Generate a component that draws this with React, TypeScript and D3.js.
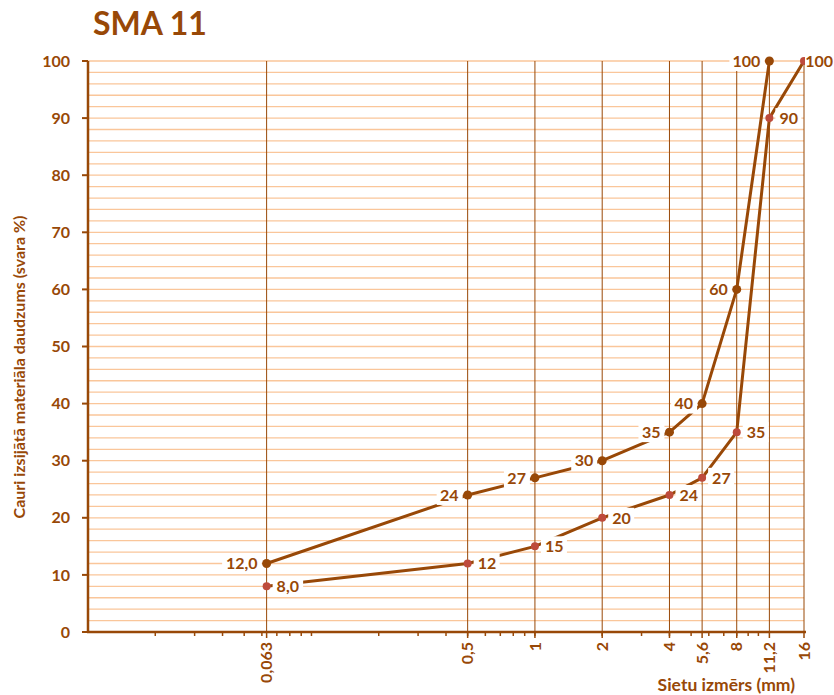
import React from "react";
import * as d3 from "d3";

const sieves = [0.063, 0.5, 1, 2, 4, 5.6, 8, 11.2, 16];
const sieveLabels = ["0,063", "0,5", "1", "2", "4", "5,6", "8", "11,2", "16"];

const upperX = [0.063, 0.5, 1, 2, 4, 5.6, 8, 11.2];
const upperY = [12, 24, 27, 30, 35, 40, 60, 100];
const upperLabels = ["12,0", "24", "27", "30", "35", "40", "60", "100"];

const lowerX = [0.063, 0.5, 1, 2, 4, 5.6, 8, 11.2, 16];
const lowerY = [8, 12, 15, 20, 24, 27, 35, 90, 100];
const lowerLabels = ["8,0", "12", "15", "20", "24", "27", "35", "90", "100"];

const yTicks = [0, 10, 20, 30, 40, 50, 60, 70, 80, 90, 100];
const yGrid = d3.range(0, 101, 2);

const W = 834;
const H = 695;
const BROWN = "#984807";
const GRID = "#FAC69A";
const RED = "#BE4B3C";
const FONT = "Lato, 'Open Sans', sans-serif";

export default function App() {
  const x = d3.scaleLog().domain([0.01, 16]).range([88, 804]);
  const y = d3.scaleLinear().domain([0, 100]).range([632, 61]);
  const minorTicks = x.ticks(20).filter((t) => t > 0.01 && t < 16);
  const line = d3
    .line<[number, number]>()
    .x((d) => x(d[0]))
    .y((d) => y(d[1]));
  const upper: [number, number][] = upperX.map((v, i) => [v, upperY[i]]);
  const lower: [number, number][] = lowerX.map((v, i) => [v, lowerY[i]]);

  const labelW = (s: string) => s.length * 9 - (s.includes(",") ? 4.5 : 0);

  return (
    <svg
      width={W}
      height={H}
      style={{ position: "absolute", left: 0, top: 0, background: "#fff" }}
      fontFamily={FONT}
    >
      <rect x={0} y={0} width={W} height={H} fill="#fff" />
      <text x={93} y={35} fontSize={32} fontWeight={700} fill={BROWN}>
        SMA 11
      </text>

      {/* horizontal grid */}
      {yGrid.map((v) => (
        <line
          key={"g" + v}
          x1={88}
          x2={804}
          y1={y(v)}
          y2={y(v)}
          stroke={GRID}
          strokeWidth={1.3}
        />
      ))}
      {/* vertical sieve lines */}
      {sieves.map((s) => (
        <line
          key={"v" + s}
          x1={x(s)}
          x2={x(s)}
          y1={y(100)}
          y2={y(0)}
          stroke={BROWN}
          strokeWidth={1}
        />
      ))}

      {/* axes */}
      <line x1={88} x2={88} y1={y(100)} y2={y(0) + 1} stroke={BROWN} strokeWidth={2.5} />
      <line x1={87} x2={806} y1={y(0)} y2={y(0)} stroke={BROWN} strokeWidth={2.5} />
      {yTicks.map((v) => (
        <g key={"yt" + v}>
          <line x1={82} x2={88} y1={y(v)} y2={y(v)} stroke={BROWN} strokeWidth={2} />
          <text
            x={70}
            y={y(v)}
            dy="0.35em"
            textAnchor="end"
            fontSize={16}
            fontWeight={700}
            fill={BROWN}
          >
            {v}
          </text>
        </g>
      ))}
      {minorTicks.map((t) => (
        <line
          key={"mt" + t}
          x1={x(t)}
          x2={x(t)}
          y1={y(0)}
          y2={y(0) + 4}
          stroke={BROWN}
          strokeWidth={1.5}
        />
      ))}
      {sieves.map((s, i) => (
        <g key={"xt" + s}>
          <line x1={x(s)} x2={x(s)} y1={y(0)} y2={y(0) + 6} stroke={BROWN} strokeWidth={1.5} />
          <text
            transform={`translate(${x(s)},${y(0) + 10}) rotate(-90)`}
            dy="0.35em"
            textAnchor="end"
            fontSize={16}
            fontWeight={700}
            fill={BROWN}
          >
            {sieveLabels[i]}
          </text>
        </g>
      ))}

      {/* axis titles */}
      <text
        transform={`translate(25,367) rotate(-90)`}
        textAnchor="middle"
        fontSize={16}
        fontWeight={700}
        fill={BROWN}
      >
        Cauri izsijātā materiāla daudzums (svara %)
      </text>
      <text x={795} y={691} textAnchor="end" fontSize={17.5} fontWeight={700} fill={BROWN}>
        Sietu izmērs (mm)
      </text>

      {/* series lines */}
      <path d={line(upper) || ""} fill="none" stroke={BROWN} strokeWidth={3} strokeLinejoin="round" />
      <path d={line(lower) || ""} fill="none" stroke={BROWN} strokeWidth={3} strokeLinejoin="round" />

      {/* markers */}
      {upper.map((d, i) => (
        <circle key={"um" + i} cx={x(d[0])} cy={y(d[1])} r={4.5} fill={BROWN} />
      ))}
      {lower.map((d, i) => (
        <circle key={"lm" + i} cx={x(d[0])} cy={y(d[1])} r={4} fill={RED} />
      ))}

      {/* labels */}
      {upper.map((d, i) => {
        const w = labelW(upperLabels[i]);
        const rx = x(d[0]) - 9;
        return (
          <g key={"ul" + i}>
            <rect x={rx - w - 4} y={y(d[1]) - 10} width={w + 8} height={20} fill="#fff" />
            <text
              x={rx}
              y={y(d[1])}
              dy="0.36em"
              textAnchor="end"
              fontSize={16}
              fontWeight={700}
              fill={BROWN}
            >
              {upperLabels[i]}
            </text>
          </g>
        );
      })}
      {lower.map((d, i) => {
        const w = labelW(lowerLabels[i]);
        const clamped = x(d[0]) + 10 + w > W - 2;
        const lx = clamped ? W - 1 - w : x(d[0]) + 10;
        const pad = clamped ? 1 : 4;
        return (
          <g key={"ll" + i}>
            <rect x={lx - pad} y={y(d[1]) - 10} width={w + pad * 2} height={20} fill="#fff" />
            <text
              x={clamped ? W - 1 : lx}
              y={y(d[1])}
              dy="0.36em"
              textAnchor={clamped ? "end" : "start"}
              fontSize={16}
              fontWeight={700}
              fill={BROWN}
            >
              {lowerLabels[i]}
            </text>
          </g>
        );
      })}
    </svg>
  );
}
